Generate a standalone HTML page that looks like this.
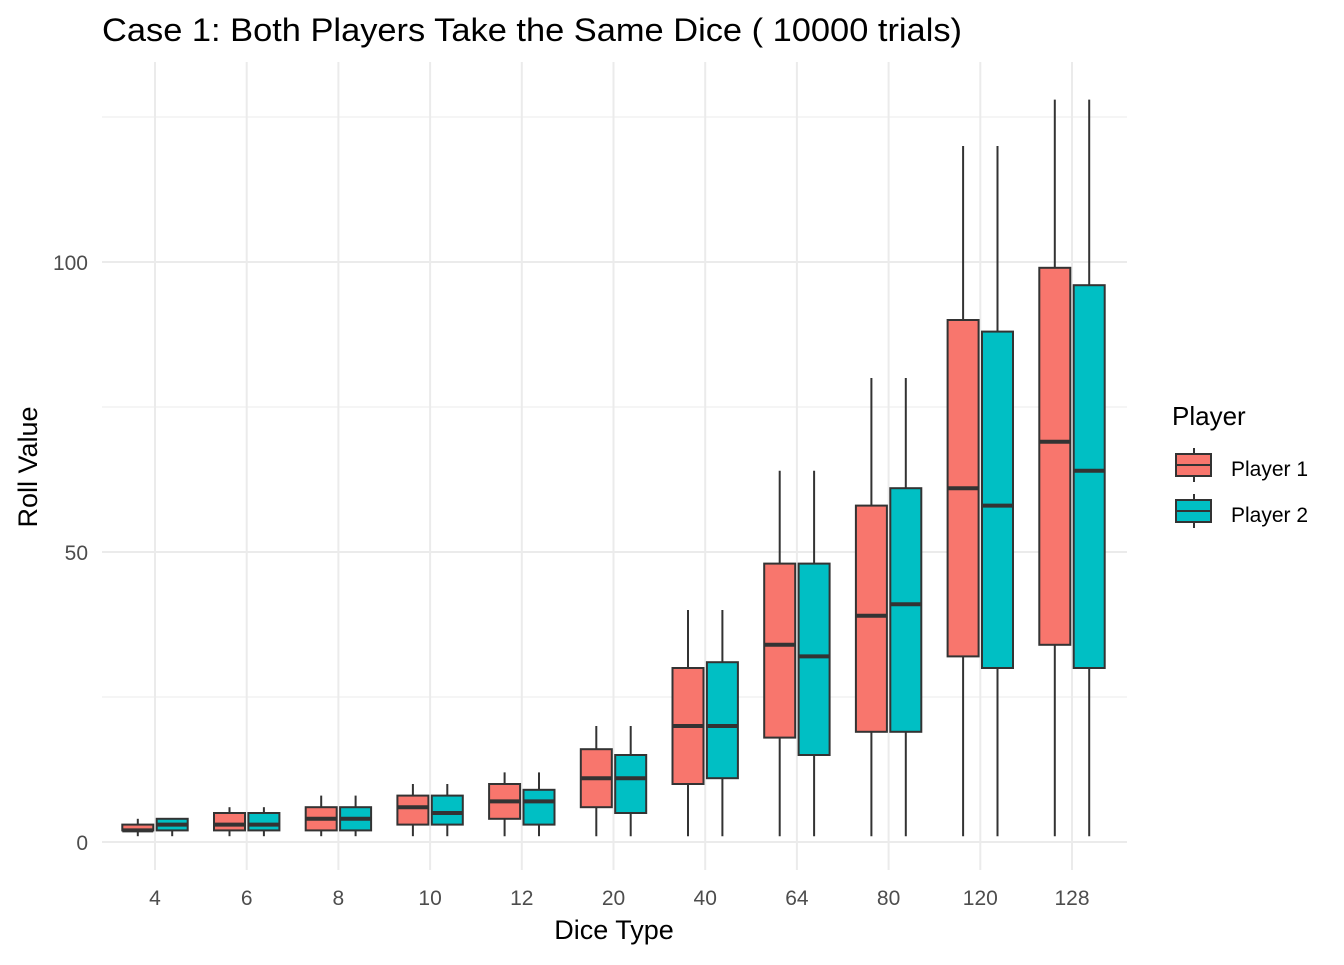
<!DOCTYPE html>
<html><head><meta charset="utf-8"><style>
body{margin:0;background:#fff;}
svg{font-family:"Liberation Sans",sans-serif;}
</style></head><body>
<svg id="chart" width="1344" height="960" viewBox="0 0 1344 960" xmlns="http://www.w3.org/2000/svg">
<rect width="1344" height="960" fill="#fff"/>
<text x="102" y="41" font-size="32" textLength="860" lengthAdjust="spacingAndGlyphs" fill="#000">Case 1: Both Players Take the Same Dice ( 10000 trials)</text>
<g id="grid"></g>
<g id="boxes"></g>
<g id="axes"></g>
<text x="614" y="939" font-size="27" text-anchor="middle">Dice Type</text>
<text transform="translate(37,467) rotate(-90)" font-size="27" text-anchor="middle">Roll Value</text>
<g>
<text x="1172" y="425" font-size="26">Player</text>
<g>
<line x1="1194" y1="448" x2="1194" y2="482" stroke="#333" stroke-width="2"/>
<rect x="1176" y="454" width="35" height="22" fill="#F8766D" stroke="#333" stroke-width="2"/>
<line x1="1176" y1="465" x2="1211" y2="465" stroke="#333" stroke-width="2"/>
<text x="1231" y="476" font-size="21">Player 1</text></g>
<g>
<line x1="1194" y1="494" x2="1194" y2="528" stroke="#333" stroke-width="2"/>
<rect x="1176" y="500" width="35" height="22" fill="#00BFC4" stroke="#333" stroke-width="2"/>
<line x1="1176" y1="511" x2="1211" y2="511" stroke="#333" stroke-width="2"/>
<text x="1231" y="522" font-size="21">Player 2</text></g>
</g>
</svg>
<script>
const categories=["4","6","8","10","12","20","40","64","80","120","128"];
const p1Low=[1,1,1,1,1,1,1,1,1,1,1];
const p1Q1=[2,2,2,3,4,6,10,18,19,32,34];
const p1Med=[2,3,4,6,7,11,20,34,39,61,69];
const p1Q3=[3,5,6,8,10,16,30,48,58,90,99];
const p1High=[4,6,8,10,12,20,40,64,80,120,128];
const p2Low=[1,1,1,1,1,1,1,1,1,1,1];
const p2Q1=[2,2,2,3,3,5,11,15,19,30,30];
const p2Med=[3,3,4,5,7,11,20,32,41,58,64];
const p2Q3=[4,5,6,8,9,15,31,48,61,88,96];
const p2High=[4,6,8,10,12,20,40,64,80,120,128];
const yMajor=[0,50,100];
const yMinor=[25,75,125];

const NS="http://www.w3.org/2000/svg";
const L=102,R=1127,T=62,B=870;
const y=v=>842-v*5.8;
const x=i=>155+i*91.7;
function mk(p,tag,a){const e=document.createElementNS(NS,tag);for(const k in a)e.setAttribute(k,a[k]);p.appendChild(e);return e;}
const grid=document.getElementById('grid'),boxes=document.getElementById('boxes'),axes=document.getElementById('axes');
yMinor.forEach(v=>{const l=mk(grid,'line',{x1:L,x2:R,y1:y(v),y2:y(v),stroke:'#ebebeb','stroke-width':1});

});
yMajor.forEach(v=>{const l=mk(grid,'line',{x1:L,x2:R,y1:y(v),y2:y(v),stroke:'#ebebeb','stroke-width':2});


const t=mk(axes,'text',{x:88,y:y(v)+8,'font-size':21,fill:'#4d4d4d','text-anchor':'end'});t.textContent=v;

});
categories.forEach((c,i)=>{const l=mk(grid,'line',{x1:x(i),x2:x(i),y1:T,y2:B,stroke:'#ebebeb','stroke-width':2});


const t=mk(axes,'text',{x:x(i),y:905,'font-size':21,fill:'#4d4d4d','text-anchor':'middle'});t.textContent=c;

});
function box(cx,lo,q1,md,q3,hi,fill,name){
const g=mk(boxes,'g',{});


const w=31;
mk(g,'line',{x1:cx,x2:cx,y1:y(hi),y2:y(lo),stroke:'#333','stroke-width':2});
mk(g,'rect',{x:cx-w/2,y:y(q3),width:w,height:y(q1)-y(q3),fill:fill,stroke:'#333','stroke-width':2});
mk(g,'line',{x1:cx-w/2,x2:cx+w/2,y1:y(md),y2:y(md),stroke:'#333','stroke-width':4});}
categories.forEach((c,i)=>{
box(x(i)-17.2,p1Low[i],p1Q1[i],p1Med[i],p1Q3[i],p1High[i],'#F8766D','box-player1-d'+c);
box(x(i)+17.2,p2Low[i],p2Q1[i],p2Med[i],p2Q3[i],p2High[i],'#00BFC4','box-player2-d'+c);});
</script>
</body></html>
